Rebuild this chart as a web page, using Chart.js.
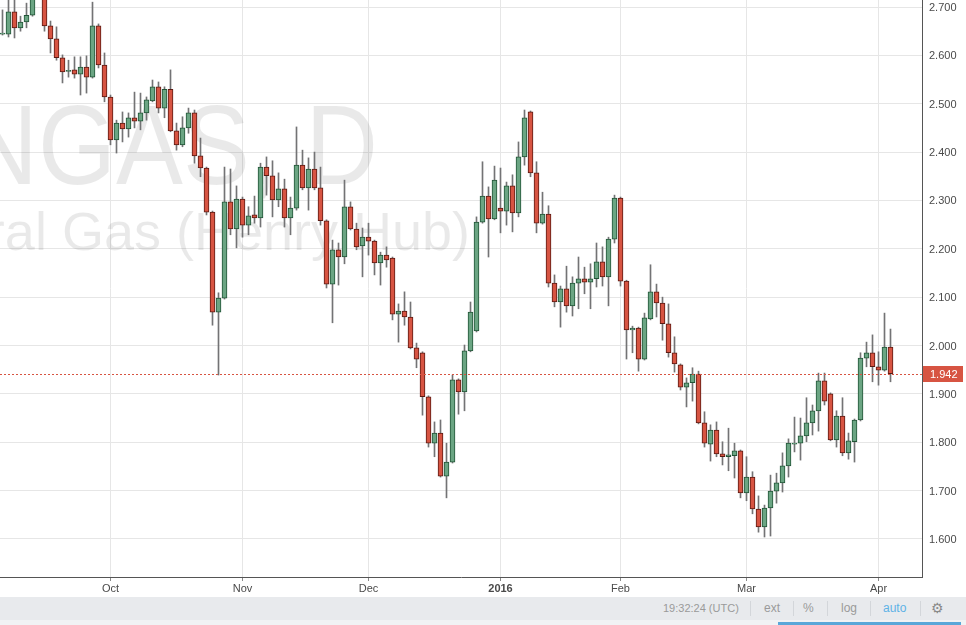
<!DOCTYPE html>
<html><head><meta charset="utf-8">
<script src="https://cdn.jsdelivr.net/npm/chart.js@4.4.1/dist/chart.umd.min.js"></script>
<style>
html,body{margin:0;padding:0;background:#fff;width:966px;height:625px;overflow:hidden;font-family:"Liberation Sans",Arial,sans-serif;}
#wrap{position:absolute;left:0;top:0;width:966px;height:597px;}
#bar{position:absolute;left:0;top:597px;width:966px;height:23px;background:#e8eaed;font-size:12px;color:#9a9a9a;}
#foot{position:absolute;left:0;top:620px;width:966px;height:5px;background:#f1f2f4;}
#blue{position:absolute;left:778px;top:622px;width:183px;height:3px;background:#5aa7d9;}
.t{position:absolute;top:0;line-height:23px;white-space:nowrap;}
.sep{position:absolute;top:4px;width:1px;height:15px;background:#d3d6da;}
</style></head><body>
<div id="wrap"><canvas id="c" width="966" height="597"></canvas></div>
<div id="bar">
  <span class="t" style="left:663px;font-size:11px">19:32:24 (UTC)</span>
  <div class="sep" style="left:750px"></div>
  <span class="t" style="left:764px">ext</span>
  <div class="sep" style="left:793px"></div>
  <span class="t" style="left:803px">%</span>
  <div class="sep" style="left:827px"></div>
  <span class="t" style="left:841px">log</span>
  <div class="sep" style="left:870px"></div>
  <span class="t" style="left:883px;color:#5eb2e6">auto</span>
  <div class="sep" style="left:920px"></div>
  <span class="t" style="left:931px;font-size:14px;color:#8a8a8a">&#9881;</span>
</div>
<div id="foot"></div><div id="blue"></div>
<script>
const dates = ("2015-09-07 2015-09-08 2015-09-09 2015-09-10 2015-09-11 2015-09-14 2015-09-15 2015-09-16 2015-09-17 2015-09-18 " +
"2015-09-21 2015-09-22 2015-09-23 2015-09-24 2015-09-25 2015-09-28 2015-09-29 2015-09-30 " +
"2015-10-01 2015-10-02 2015-10-05 2015-10-06 2015-10-07 2015-10-08 2015-10-09 2015-10-12 2015-10-13 2015-10-14 2015-10-15 2015-10-16 " +
"2015-10-19 2015-10-20 2015-10-21 2015-10-22 2015-10-23 2015-10-26 2015-10-27 2015-10-28 2015-10-29 2015-10-30 " +
"2015-11-02 2015-11-03 2015-11-04 2015-11-05 2015-11-06 2015-11-09 2015-11-10 2015-11-11 2015-11-12 2015-11-13 " +
"2015-11-16 2015-11-17 2015-11-18 2015-11-19 2015-11-20 2015-11-23 2015-11-24 2015-11-25 2015-11-26 2015-11-27 2015-11-30 " +
"2015-12-01 2015-12-02 2015-12-03 2015-12-04 2015-12-07 2015-12-08 2015-12-09 2015-12-10 2015-12-11 2015-12-14 2015-12-15 2015-12-16 2015-12-17 2015-12-18 " +
"2015-12-21 2015-12-22 2015-12-23 2015-12-24 2015-12-28 2015-12-29 2015-12-30 2015-12-31 " +
"2016-01-04 2016-01-05 2016-01-06 2016-01-07 2016-01-08 2016-01-11 2016-01-12 2016-01-13 2016-01-14 2016-01-15 " +
"2016-01-18 2016-01-19 2016-01-20 2016-01-21 2016-01-22 2016-01-25 2016-01-26 2016-01-27 2016-01-28 2016-01-29 " +
"2016-02-01 2016-02-02 2016-02-03 2016-02-04 2016-02-05 2016-02-08 2016-02-09 2016-02-10 2016-02-11 2016-02-12 " +
"2016-02-15 2016-02-16 2016-02-17 2016-02-18 2016-02-19 2016-02-22 2016-02-23 2016-02-24 2016-02-25 2016-02-26 2016-02-29 " +
"2016-03-01 2016-03-02 2016-03-03 2016-03-04 2016-03-07 2016-03-08 2016-03-09 2016-03-10 2016-03-11 " +
"2016-03-14 2016-03-15 2016-03-16 2016-03-17 2016-03-18 2016-03-21 2016-03-22 2016-03-23 2016-03-24 2016-03-28 2016-03-29 2016-03-30 2016-03-31 " +
"2016-04-01 2016-04-04 2016-04-05 2016-04-06 2016-04-07 2016-04-08 2016-04-11 2016-04-12").split(" ");

const open = [
2.644,2.644,2.690,2.657,2.669,2.683,2.731,2.721,2.661,2.634,
2.595,2.567,2.570,2.561,2.576,2.555,2.661,2.580,2.514,2.425,
2.460,2.448,2.471,2.464,2.481,2.506,2.535,2.491,2.530,2.444,
2.415,2.450,2.481,2.392,2.367,2.276,2.069,2.098,2.297,2.241,
2.303,2.249,2.270,2.264,2.369,2.351,2.301,2.324,2.264,2.284,
2.373,2.326,2.365,2.326,2.258,2.127,2.198,2.183,2.287,2.241,
2.206,2.224,2.216,2.171,2.187,2.181,2.065,2.071,2.059,1.995,
1.985,1.894,1.798,1.819,1.730,1.759,1.929,1.904,1.989,2.030,
2.255,2.309,2.262,2.284,2.278,2.330,2.274,2.390,2.483,2.357,
2.253,2.272,2.129,2.090,2.117,2.082,2.129,2.138,2.131,2.138,
2.173,2.142,2.220,2.305,2.133,2.032,2.036,1.972,2.055,2.111,
2.088,2.045,1.985,1.960,1.914,1.923,1.941,1.840,1.796,1.825,
1.776,1.770,1.772,1.782,1.695,1.728,1.662,1.625,1.664,1.699,
1.716,1.751,1.796,1.798,1.813,1.840,1.865,1.927,1.900,1.805,
1.854,1.778,1.801,1.846,1.974,1.985,1.956,1.949,1.997];
const high = [
2.694,2.719,2.721,2.681,2.708,2.735,2.743,2.727,2.671,2.659,
2.601,2.590,2.597,2.597,2.599,2.710,2.665,2.605,2.518,2.466,
2.483,2.481,2.524,2.522,2.514,2.549,2.545,2.535,2.570,2.460,
2.473,2.491,2.487,2.429,2.369,2.278,2.109,2.369,2.365,2.330,
2.307,2.287,2.309,2.377,2.390,2.382,2.357,2.344,2.307,2.452,
2.404,2.388,2.400,2.369,2.260,2.218,2.212,2.342,2.297,2.253,
2.243,2.253,2.218,2.193,2.204,2.183,2.086,2.111,2.090,2.005,
1.987,1.896,1.842,1.846,1.798,1.939,1.931,2.001,2.090,2.266,
2.380,2.328,2.371,2.367,2.338,2.353,2.421,2.487,2.485,2.380,
2.317,2.289,2.146,2.123,2.164,2.142,2.183,2.162,2.169,2.212,
2.204,2.224,2.311,2.307,2.135,2.040,2.038,2.067,2.167,2.127,
2.100,2.086,2.018,1.962,1.933,1.954,1.947,1.863,1.836,1.842,
1.801,1.829,1.798,1.784,1.770,1.739,1.689,1.670,1.732,1.736,
1.778,1.807,1.852,1.850,1.892,1.877,1.943,1.943,1.902,1.865,
1.892,1.819,1.848,1.985,2.007,2.022,1.987,2.067,2.034];
const low = [
2.642,2.638,2.636,2.650,2.657,2.681,2.717,2.650,2.605,2.590,
2.543,2.555,2.553,2.518,2.522,2.553,2.574,2.504,2.415,2.398,
2.421,2.431,2.450,2.446,2.466,2.504,2.481,2.471,2.442,2.404,
2.411,2.439,2.377,2.349,2.270,2.042,1.939,2.096,2.229,2.202,
2.224,2.229,2.253,2.245,2.311,2.266,2.287,2.245,2.229,2.280,
2.322,2.280,2.322,2.249,2.119,2.047,2.125,2.169,2.239,2.198,
2.142,2.187,2.146,2.125,2.162,2.053,2.007,2.042,1.993,1.954,
1.856,1.790,1.770,1.728,1.685,1.757,1.858,1.865,1.987,2.028,
2.253,2.183,2.260,2.233,2.249,2.235,2.266,2.373,2.349,2.233,
2.251,2.121,2.080,2.038,2.069,2.061,2.076,2.107,2.076,2.121,
2.123,2.082,2.212,2.123,1.972,1.985,1.947,1.970,2.053,2.059,
2.011,1.976,1.945,1.908,1.873,1.885,1.838,1.790,1.761,1.770,
1.753,1.741,1.726,1.685,1.679,1.652,1.614,1.604,1.606,1.674,
1.697,1.728,1.780,1.763,1.801,1.815,1.823,1.877,1.803,1.790,
1.772,1.765,1.759,1.844,1.956,1.925,1.918,1.947,1.925];
const close = [
2.646,2.690,2.657,2.669,2.683,2.723,2.721,2.661,2.634,2.595,
2.566,2.569,2.561,2.576,2.555,2.661,2.580,2.514,2.425,2.460,
2.448,2.471,2.464,2.481,2.508,2.535,2.491,2.530,2.444,2.415,
2.450,2.481,2.392,2.367,2.276,2.069,2.098,2.297,2.241,2.303,
2.249,2.268,2.264,2.369,2.351,2.301,2.324,2.264,2.284,2.373,
2.326,2.365,2.326,2.258,2.127,2.198,2.183,2.287,2.241,2.204,
2.224,2.216,2.171,2.187,2.177,2.065,2.071,2.059,1.995,1.972,
1.894,1.798,1.819,1.730,1.759,1.929,1.904,1.989,2.069,2.255,
2.309,2.262,2.342,2.278,2.330,2.274,2.390,2.471,2.357,2.253,
2.272,2.129,2.090,2.117,2.082,2.129,2.138,2.131,2.138,2.173,
2.142,2.220,2.305,2.133,2.032,2.036,1.972,2.057,2.111,2.088,
2.045,1.985,1.962,1.914,1.923,1.941,1.840,1.798,1.825,1.776,
1.770,1.774,1.782,1.695,1.728,1.662,1.625,1.664,1.699,1.716,
1.751,1.798,1.798,1.813,1.840,1.865,1.927,1.885,1.805,1.854,
1.778,1.803,1.846,1.974,1.985,1.956,1.949,1.997,1.942];

const tickDates  = ["2015-10-01","2015-11-02","2015-12-01","2016-01-04","2016-02-01","2016-03-01","2016-04-01"];
const tickLabels = ["Oct","Nov","Dec","2016","Feb","Mar","Apr"];
const priceTicks = [1.6,1.7,1.8,1.9,2.0,2.1,2.2,2.3,2.4,2.5,2.6,2.7];
const lastPrice = 1.942;
const watermark = ["NGAS, D", "Natural Gas (Henry Hub)"];

const UP = '#6ba583', UPB = '#225437', DN = '#d75442', DNB = '#5b1a13', WICK = '#737375';
const FONT = '"Liberation Sans", Arial, sans-serif';
const isUp = open.map((o,i)=>close[i] >= o);

const overlay = {
  id: 'overlay',
  beforeDatasetsDraw(chart) {
    const {ctx, chartArea: a} = chart;
    ctx.save();
    ctx.beginPath(); ctx.rect(a.left, a.top, a.right - a.left, a.bottom - a.top); ctx.clip();
    ctx.fillStyle = 'rgba(0,0,0,0.085)';
    ctx.textAlign = 'right'; ctx.textBaseline = 'alphabetic';
    ctx.save();
    ctx.translate(378, 184); ctx.scale(0.88, 1);
    ctx.font = '114px ' + FONT; ctx.fillText(watermark[0], 0, 0);
    ctx.restore();
    ctx.font = '54px ' + FONT; ctx.fillText(watermark[1], 470, 250);
    ctx.restore();
  },
  afterDatasetsDraw(chart) {
    const {ctx, chartArea: a, scales} = chart;
    const y = Math.round(scales.y.getPixelForValue(lastPrice)) + 0.5;
    ctx.save();
    ctx.strokeStyle = '#d75442'; ctx.lineWidth = 1; ctx.setLineDash([2, 2]);
    ctx.beginPath(); ctx.moveTo(a.left, y); ctx.lineTo(a.right, y); ctx.stroke();
    ctx.restore();
  },
  afterDraw(chart) {
    const {ctx, chartArea: a, scales} = chart;
    const y = Math.round(scales.y.getPixelForValue(lastPrice));
    ctx.save();
    ctx.fillStyle = '#d75442';
    ctx.fillRect(a.right + 1, y - 8, 40, 16);
    ctx.fillStyle = '#ffffff'; ctx.font = '11px ' + FONT;
    ctx.textAlign = 'left'; ctx.textBaseline = 'middle';
    ctx.fillText(lastPrice.toFixed(3), a.right + 8, y + 1);
    ctx.restore();
  }
};

new Chart(document.getElementById('c'), {
  type: 'bar',
  data: {
    datasets: [
      {
        label: 'body',
        data: open.map((o,i)=>({x: i, y: [o, close[i]]})),
        backgroundColor: isUp.map(u=>u ? UP : DN),
        borderColor: isUp.map(u=>u ? UPB : DNB),
        borderWidth: 1, borderSkipped: false, barThickness: 5, minBarLength: 1, grouped: false
      },
      {
        label: 'wick',
        data: low.map((l,i)=>({x: i, y: [l, high[i]]})),
        backgroundColor: WICK, borderWidth: 0, barThickness: 1, grouped: false
      }
    ]
  },
  options: {
    responsive: false, animation: false, maintainAspectRatio: false,
    layout: {padding: 0},
    plugins: {legend: {display: false}, tooltip: {enabled: false}},
    scales: {
      x: {
        type: 'linear', min: -0.4167, max: 153.25, offset: false,
        afterBuildTicks(s) { s.ticks = tickDates.map(d=>({value: dates.indexOf(d)})); },
        afterFit(s) { s.height = 20; s.paddingLeft = 0; s.paddingRight = 0; },
        grid: {color: '#e6e6e6', tickLength: 4, tickColor: '#8a8a8a', drawTicks: true, offset: false},
        border: {color: '#555555', width: 1},
        ticks: {
          autoSkip: false, maxRotation: 0, padding: 1, color: '#4a4a4a',
          font: (c)=>({family: FONT, size: 11, weight: (tickLabels[c.index] === '2016') ? 'bold' : 'normal'}),
          callback: (v, i)=>tickLabels[i]
        }
      },
      y: {
        position: 'right', min: 1.5213, max: 2.7145,
        afterBuildTicks(s) { s.ticks = priceTicks.map(v=>({value: v})); },
        afterFit(s) { s.width = 44; s.paddingTop = 0; s.paddingBottom = 0; },
        grid: {color: '#e6e6e6', drawTicks: false},
        border: {color: '#555555', width: 1},
        ticks: {padding: 7, labelOffset: 1, color: '#4a4a4a', font: {family: FONT, size: 11},
                callback: (v)=>Number(v).toFixed(3)}
      }
    }
  },
  plugins: [overlay]
});
</script>
</body></html>
